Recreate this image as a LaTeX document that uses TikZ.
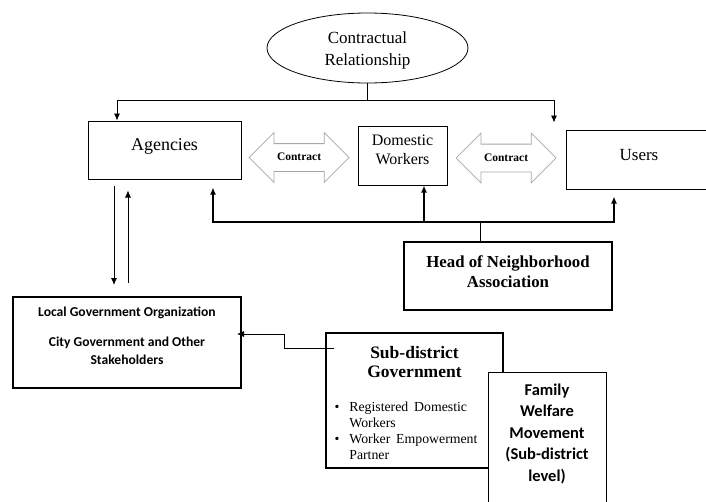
\documentclass[tikz,border=0pt]{standalone}
\usepackage{fontspec}
\setmainfont{Liberation Serif}
\newfontfamily\califont{Carlito}
\usetikzlibrary{arrows.meta,positioning,shapes.geometric,shapes.arrows}
\newcommand{\padbelow}[1]{\rule[-#1]{0pt}{#1}}
\newcommand{\padabove}[1]{\rule{0pt}{#1}}

\begin{document}
\begin{tikzpicture}[
      x=1pt,y=1pt,
      party/.style={rectangle,draw,line width=1pt,align=center,inner sep=0pt},
      deal/.style={double arrow,draw=gray!70,line width=0.8pt,minimum height=100pt,minimum width=49pt,
        double arrow head extend=11pt,inner xsep=2pt,inner ysep=8.5pt,text height=8pt,text depth=2pt,
        font=\bfseries\fontsize{11.5}{13}\selectfont},
      link/.style={line width=0.8pt},
      >={Latex[length=7pt,width=6pt]}
    ]
    \useasboundingbox (0,0) rectangle (706,-501);

    % Contract partners
    \node[ellipse,draw,line width=0.8pt,minimum width=201pt,minimum height=70pt,inner sep=0pt,
      align=center,font=\fontsize{17}{22}\selectfont] (rel) at (367.5,-48) {\padabove{17pt}Contractual\\Relationship};
    \node[party,minimum width=153pt,minimum height=58pt,font=\fontsize{18}{22}\selectfont]
      (ag) at (164.5,-150) {Agencies\padbelow{10pt}};
    \node[party,minimum width=89pt,minimum height=59pt,font=\fontsize{16}{19}\selectfont,
      right=116pt of ag,yshift=-5.5pt] (dw) {Domestic\\Workers\padbelow{11pt}};
    \node[party,minimum width=146pt,minimum height=59pt,font=\fontsize{17}{22}\selectfont,
      right=118pt of dw,yshift=-4pt] (us) {Users\padbelow{10pt}};

    % Contracts
    \node[deal,right=7pt of ag,yshift=-7.5pt] (ct1) {Contract};
    \node[deal,right=8pt of dw,yshift=-2.5pt] (ct2) {Contract};

    % Neighborhood head
    \node[party,line width=2.6pt,minimum width=208pt,minimum height=68pt,
      font=\bfseries\fontsize{16.8}{20}\selectfont] (hd) at (508,-276)
      {Head of Neighborhood\\Association\padbelow{8pt}};

    % Local government
    \node[party,line width=2pt,minimum width=228pt,minimum height=91pt,
      font=\califont\bfseries\fontsize{13.6}{18}\selectfont] (lg) at (127,-342.5)
      {Local Government Organization\\[12pt]City Government and Other\\Stakeholders\padbelow{13.5pt}};

    % Sub-district
    \node[party,line width=2pt,minimum width=177pt,minimum height=135pt,text width=160pt,inner xsep=8.5pt,
      font=\bfseries\fontsize{17.5}{19}\selectfont] (sd) at (414.5,-400.5)
      {\padabove{21pt}Sub-district\\Government\\[15pt]
       \makebox[\hsize][l]{\mdseries\fontsize{13.8}{16}\selectfont
         \begin{tabular}[t]{@{}l@{\hspace{10pt}}l@{}}
           \textbullet & Registered Domestic\\
                       & Workers\\
           \textbullet & Worker Empowerment\\
                       & Partner
         \end{tabular}}};
    \node[party,fill=white,anchor=north,minimum width=118pt,text width=110pt,inner xsep=4pt,inner ysep=11pt,
      font=\califont\bfseries\fontsize{16.5}{21.5}\selectfont] (fw) at (547,-372)
      {Family\\Welfare\\Movement\\(Sub-district\\level)\padbelow{60pt}};

    % Relationship forks
    \draw[link] (rel.south) -- ++(0,-17) coordinate (fork);
    \draw[link,->] (fork) -| ([xshift=-47.5pt]ag.north);
    \draw[link,->] (fork) -| ([xshift=-85pt,yshift=7pt]us.north);

    \draw[link] ([xshift=-28pt]hd.north) -- ++(0,19) coordinate (hub);
    \draw[->,line width=1.6pt] (hub) -| ([xshift=48.5pt,yshift=-8pt]ag.south);
    \draw[->,line width=2.2pt] (hub) -| ([xshift=21.5pt]dw.south);
    \draw[->,line width=1.6pt] (hub) -| ([xshift=-25pt,yshift=-7pt]us.south);

    % Agencies and local government
    \draw[link,->] ([xshift=-50.5pt,yshift=-6pt]ag.south) -- ([xshift=-13pt,yshift=11pt]lg.north);
    \draw[link,->] ([xshift=1pt,yshift=13pt]lg.north) -- ([xshift=-36.5pt,yshift=-11pt]ag.south);

    % Sub-district reports up
    \draw[link,->] ([xshift=9pt,yshift=52.5pt]sd.west) -- ++(-50,0) |- ([xshift=-5pt,yshift=8.5pt]lg.east);

  \end{tikzpicture}
\end{document}
